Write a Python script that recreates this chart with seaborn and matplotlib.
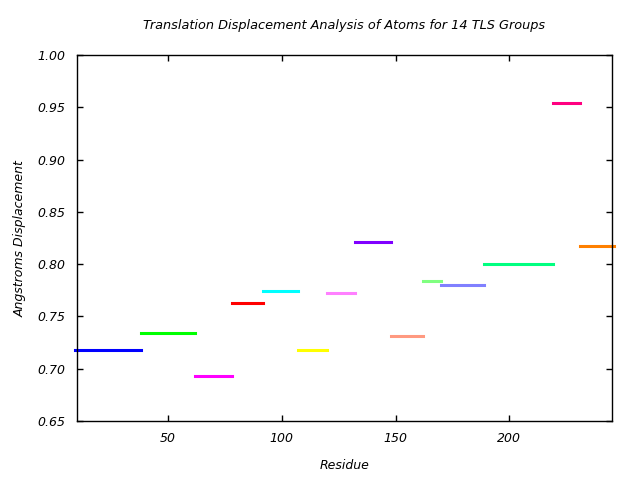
import pandas as pd
import matplotlib
matplotlib.use("Agg")
import matplotlib.pyplot as plt
import seaborn as sns

# -----------------------------
# Data: TLS group residue ranges and translation displacement
# -----------------------------
group_start = [9, 38, 62, 78, 92, 107, 120, 132, 148, 162, 170, 189, 219, 231]
group_end = [38, 62, 78, 92, 107, 120, 132, 148, 162, 170, 189, 219, 231, 246]
displacement = [0.718, 0.734, 0.693, 0.763, 0.774, 0.718, 0.772,
                0.821, 0.731, 0.784, 0.780, 0.800, 0.954, 0.817]
group_colors = ["#0000ff", "#00ff00", "#ff00ff", "#ff0000", "#00ffff",
                "#ffff00", "#ff80ff", "#8000ff", "#ff9980", "#80ff80",
                "#8080ff", "#00ff80", "#ff0080", "#ff8000"]
x_ticks = [50, 100, 150, 200]
y_ticks = [0.65, 0.70, 0.75, 0.80, 0.85, 0.90, 0.95, 1.00]

# long table: two points per group (start and end of the segment)
rows = []
for i, (s, e, d) in enumerate(zip(group_start, group_end, displacement)):
    rows.append({"group": i, "residue": s, "disp": d})
    rows.append({"group": i, "residue": e, "disp": d})
df = pd.DataFrame(rows)

# -----------------------------
# Style
# -----------------------------
sns.set_style("ticks")
plt.rcParams.update({
    "font.family": ["DejaVu Sans"],
    "font.style": "italic",
    "text.color": "black",
    "axes.labelcolor": "black",
    "xtick.color": "black",
    "ytick.color": "black",
    "xtick.direction": "in",
    "ytick.direction": "in",
    "xtick.top": True,
    "ytick.right": True,
})

fig = plt.figure(figsize=(6.4, 4.8), dpi=100)
ax = fig.add_axes([0.120, 0.123, 0.836, 0.762])

sns.lineplot(
    data=df, x="residue", y="disp", hue="group",
    palette=group_colors, estimator=None, legend=False,
    linewidth=2.2, ax=ax
)
for line in ax.lines:
    line.set_solid_capstyle("projecting")
    line.set_clip_on(False)

ax.set_xlim(10, 245)
ax.set_ylim(0.65, 1.00)
ax.set_xticks(x_ticks)
ax.set_yticks(y_ticks)
ax.set_yticklabels([f"{v:.2f}" for v in y_ticks])
ax.tick_params(axis="both", labelsize=9, length=4, width=1, pad=8)
for sp in ax.spines.values():
    sp.set_linewidth(1)
    sp.set_color("black")

ax.set_title("Translation Displacement Analysis of Atoms for 14 TLS Groups",
             fontsize=9.3, style="italic", pad=19)
ax.set_xlabel("Residue", fontsize=9, style="italic", labelpad=10)
ax.set_ylabel("Angstroms Displacement", fontsize=9, style="italic", labelpad=8)

plt.savefig("out.png", dpi=100)
plt.close()
